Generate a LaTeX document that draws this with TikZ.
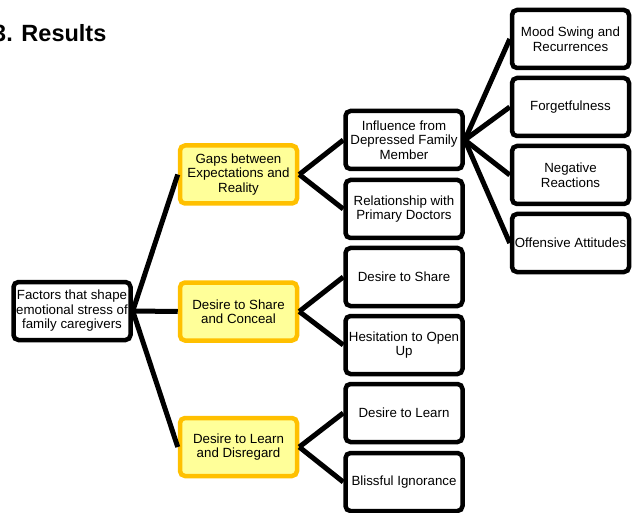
\documentclass[tikz,border=0pt]{standalone}
\usepackage{fontspec}
\setmainfont{Liberation Sans}
\usetikzlibrary{calc}
\definecolor{boxyellow}{HTML}{FFFF99}
\definecolor{boxorange}{HTML}{FFC000}
\tikzset{
	box/.style={draw=black, line width=4.5pt, rounded corners=5pt, fill=white, minimum width=117pt, minimum height=58pt, align=center, inner sep=0pt, font=\fontsize{13.3}{14.5}\selectfont},
	themebox/.style={box, draw=boxorange, fill=boxyellow},
	link/.style={line width=5pt, black}
}

\begin{document}
\begin{tikzpicture}[x=1pt, y=-1pt]
		\useasboundingbox (0, 0) rectangle (640, 513);
		%%%%% START %%%%%
		\node[anchor=base west, inner sep=0pt, font=\fontsize{23.5}{25}\selectfont\bfseries] (title) at (-7, 42) {3. Results};
		
		\node[box] (root) at (72, 311) {Factors that shape\\emotional stress of\\family caregivers};
		
		\node[themebox] (gaps) at (238.5, 174.5) {Gaps between\\Expectations and\\Reality};
		\node[themebox] (share) at (238.5, 311.5) {Desire to Share\\and Conceal};
		\node[themebox] (learn) at (238.5, 447) {Desire to Learn\\and Disregard};
		
		\node[box] (influence) at (404, 140) {Influence from\\Depressed Family\\Member};
		\node[box] (doctors) at (404, 209) {Relationship with\\Primary Doctors};
		\node[box] (toshare) at (404, 277) {Desire to Share};
		\node[box] (hesitation) at (404, 345) {Hesitation to Open\\Up};
		\node[box] (tolearn) at (404, 413) {Desire to Learn};
		\node[box] (blissful) at (404, 482) {Blissful Ignorance};
		
		\node[box] (mood) at (570.5, 39) {Mood Swing and\\Recurrences};
		\node[box] (forget) at (570.5, 107) {Forgetfulness};
		\node[box] (negative) at (570.5, 175) {Negative\\Reactions};
		\node[box] (offensive) at (570.5, 243) {Offensive Attitudes};
		
		% connectors
		\draw[link] (root.east) -- (gaps.west);
		\draw[link] (root.east) -- (share.west);
		\draw[link] (root.east) -- (learn.west);
		
		\draw[link] (gaps.east) -- (influence.west);
		\draw[link] (gaps.east) -- (doctors.west);
		\draw[link] (share.east) -- (toshare.west);
		\draw[link] (share.east) -- (hesitation.west);
		\draw[link] (learn.east) -- (tolearn.west);
		\draw[link] (learn.east) -- (blissful.west);
		
		\draw[link] (influence.east) -- (mood.west);
		\draw[link] (influence.east) -- (forget.west);
		\draw[link] (influence.east) -- (negative.west);
		\draw[link] (influence.east) -- (offensive.west);
		%%%%% END %%%%%
\end{tikzpicture}
\end{document}
